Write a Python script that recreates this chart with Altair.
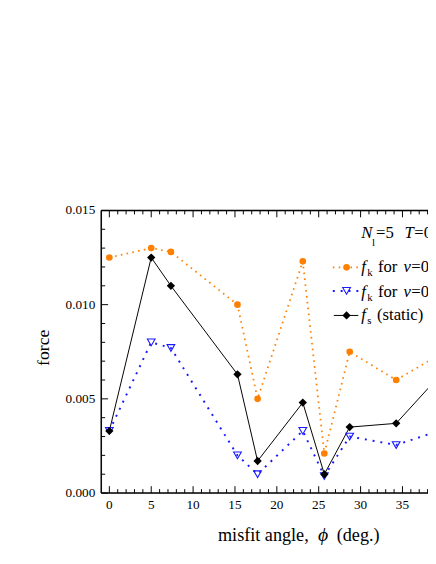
import altair as alt
import pandas as pd

# ---- data ----
angles = [0.0, 5.0, 7.35, 15.3, 17.7, 23.1, 25.67, 28.7, 34.25, 40.0]
fk_fast = [0.0125, 0.0130, 0.0128, 0.0100, 0.0050, 0.0123, 0.0021, 0.0075, 0.0060, 0.0075]
fk_slow = [0.0033, 0.0080, 0.0077, 0.0020, 0.0010, 0.0033, 0.0009, 0.0030, 0.00255, 0.0034]
fs_static = [0.0033, 0.0125, 0.0110, 0.0063, 0.0017, 0.0048, 0.0010, 0.0035, 0.0037, 0.0065]

x_major = [0, 5, 10, 15, 20, 25, 30, 35, 40]
x_minor = [i for i in range(0, 41) if i % 5 != 0]
x_labels = ["0", "5", "10", "15", "20", "25", "30", "35"]
y_major = [0.0, 0.005, 0.010, 0.015]
y_labels = ["0.000", "0.005", "0.010", "0.015"]
y_minor = [0.001, 0.002, 0.003, 0.004, 0.006, 0.007, 0.008, 0.009, 0.011, 0.012, 0.013, 0.014]

W, H = 333, 288
FONT = "Liberation Serif"
ORANGE = "#ff8000"
BLUE = "#1a1aff"

df = pd.DataFrame({"angle": angles, "fast": fk_fast, "slow": fk_slow, "static": fs_static})

xs = alt.Scale(domain=[-0.97, 38.05], nice=False, zero=False)
ys = alt.Scale(domain=[0, 0.015], nice=False, zero=False)

X = alt.X("angle:Q", scale=xs, axis=None)
base = alt.Chart(df)

orange_line = base.mark_line(color=ORANGE, strokeDash=[1.6, 4.4], strokeWidth=1.8, clip=True).encode(
    x=X, y=alt.Y("fast:Q", scale=ys, axis=None))
blue_line = base.mark_line(color=BLUE, strokeDash=[2, 6], strokeWidth=2, clip=True).encode(
    x=X, y=alt.Y("slow:Q", scale=ys, axis=None))
black_line = base.mark_line(color="black", strokeWidth=1, clip=True).encode(
    x=X, y=alt.Y("static:Q", scale=ys, axis=None))

orange_pts = base.mark_point(shape="circle", filled=True, color=ORANGE, size=46, opacity=1, clip=True).encode(
    x=X, y=alt.Y("fast:Q", scale=ys, axis=None))
blue_pts = base.mark_point(shape="triangle-down", filled=False, color=BLUE, size=62, strokeWidth=1.1,
                           opacity=1, clip=True).encode(
    x=X, y=alt.Y("slow:Q", scale=ys, axis=None))
black_pts = base.mark_point(shape="diamond", filled=True, color="black", size=72, opacity=1, clip=True).encode(
    x=X, y=alt.Y("static:Q", scale=ys, axis=None))

# tick labels
ylab = alt.Chart(pd.DataFrame({"v": y_major, "t": y_labels})).mark_text(
    font=FONT, fontSize=13.5, color="black", align="right", baseline="middle").encode(
    y=alt.Y("v:Q", scale=ys, axis=None), x=alt.value(-6), text="t:N")
xlab = alt.Chart(pd.DataFrame({"v": x_major[:len(x_labels)], "t": x_labels})).mark_text(
    font=FONT, fontSize=13.5, color="black", align="center", baseline="middle").encode(
    x=alt.X("v:Q", scale=xs, axis=None), y=alt.value(H + 12), text="t:N")

# inward ticks
ymaj = alt.Chart(pd.DataFrame({"v": y_major})).mark_rule(color="black", strokeWidth=1).encode(
    y=alt.Y("v:Q", scale=ys, axis=None), x=alt.value(0), x2=alt.value(7))
ymin = alt.Chart(pd.DataFrame({"v": y_minor})).mark_rule(color="black", strokeWidth=1).encode(
    y=alt.Y("v:Q", scale=ys, axis=None), x=alt.value(0), x2=alt.value(4))
xmaj_b = alt.Chart(pd.DataFrame({"v": x_major})).mark_rule(color="black", strokeWidth=1, clip=True).encode(
    x=alt.X("v:Q", scale=xs, axis=None), y=alt.value(H), y2=alt.value(H - 7))
xmin_b = alt.Chart(pd.DataFrame({"v": x_minor})).mark_rule(color="black", strokeWidth=1, clip=True).encode(
    x=alt.X("v:Q", scale=xs, axis=None), y=alt.value(H), y2=alt.value(H - 4))
xmaj_t = alt.Chart(pd.DataFrame({"v": x_major})).mark_rule(color="black", strokeWidth=1, clip=True).encode(
    x=alt.X("v:Q", scale=xs, axis=None), y=alt.value(0), y2=alt.value(7))
xmin_t = alt.Chart(pd.DataFrame({"v": x_minor})).mark_rule(color="black", strokeWidth=1, clip=True).encode(
    x=alt.X("v:Q", scale=xs, axis=None), y=alt.value(0), y2=alt.value(4))

one = pd.DataFrame({"a": [0]})
frame = [
    alt.Chart(one).mark_rule(color="black", strokeWidth=1.5).encode(
        x=alt.value(0), x2=alt.value(W), y=alt.value(0)),
    alt.Chart(one).mark_rule(color="black", strokeWidth=1.5).encode(
        x=alt.value(0), x2=alt.value(W), y=alt.value(H)),
    alt.Chart(one).mark_rule(color="black", strokeWidth=1.5).encode(
        x=alt.value(0), y=alt.value(0), y2=alt.value(H)),
]


def txt(s, x, y, size=17, style="normal", angle=0, align="left"):
    return alt.Chart(pd.DataFrame({"t": [s]})).mark_text(
        font=FONT, fontSize=size, fontStyle=style, color="black", align=align,
        baseline="alphabetic", angle=angle).encode(
        text="t:N", x=alt.value(x), y=alt.value(y))


texts = [
    # axis titles
    txt("force", -53, 140, size=18, angle=270, align="center"),
    txt("misfit angle,", 119, 337, size=18.5),
    txt("ϕ", 221, 337, size=20, style="italic"),
    txt("(deg.)", 240, 337, size=18.5),
    # legend header
    txt("N", 265, 28, style="italic"),
    txt("l", 276, 36, size=11),
    txt("=5", 280, 28),
    txt("T", 309, 28, style="italic"),
    txt("=0.1", 319, 28),
    # row 1
    txt("f", 265, 63, style="italic"),
    txt("k", 271, 67, size=11),
    txt("for", 282, 63),
    txt("v", 308, 63, style="italic"),
    txt("=0.05", 316, 63),
    # row 2
    txt("f", 265, 88, style="italic"),
    txt("k", 271, 92, size=11),
    txt("for", 282, 88),
    txt("v", 308, 88, style="italic"),
    txt("=0.01", 316, 88),
    # row 3
    txt("f", 265, 112, style="italic"),
    txt("s", 271, 116, size=11),
    txt("(static)", 281, 112),
]

leg = [
    alt.Chart(one).mark_rule(color=ORANGE, strokeDash=[1.6, 4.4], strokeWidth=1.8).encode(
        x=alt.value(236), x2=alt.value(262), y=alt.value(58)),
    alt.Chart(one).mark_point(shape="circle", filled=True, color=ORANGE, size=46, opacity=1).encode(
        x=alt.value(250), y=alt.value(58)),
    alt.Chart(one).mark_rule(color=BLUE, strokeDash=[2, 6], strokeWidth=2).encode(
        x=alt.value(236), x2=alt.value(262), y=alt.value(82)),
    alt.Chart(one).mark_point(shape="triangle-down", filled=False, color=BLUE, size=62, strokeWidth=1.1,
                              opacity=1).encode(x=alt.value(250), y=alt.value(82)),
    alt.Chart(one).mark_rule(color="black", strokeWidth=1).encode(
        x=alt.value(237), x2=alt.value(262), y=alt.value(107)),
    alt.Chart(one).mark_point(shape="diamond", filled=True, color="black", size=72, opacity=1).encode(
        x=alt.value(250), y=alt.value(107)),
]

chart = alt.layer(
    orange_line, blue_line, black_line, orange_pts, blue_pts, black_pts,
    ymaj, ymin, xmaj_b, xmin_b, xmaj_t, xmin_t, *frame, ylab, xlab, *leg, *texts
).properties(
    width=W, height=H,
    autosize=alt.AutoSizeParams(type="none"),
    padding={"left": 95, "top": 201, "right": 0, "bottom": 67},
).configure_view(stroke=None).configure(background="white")

chart.save("out.html", embed_options={"renderer": "svg", "actions": False})
